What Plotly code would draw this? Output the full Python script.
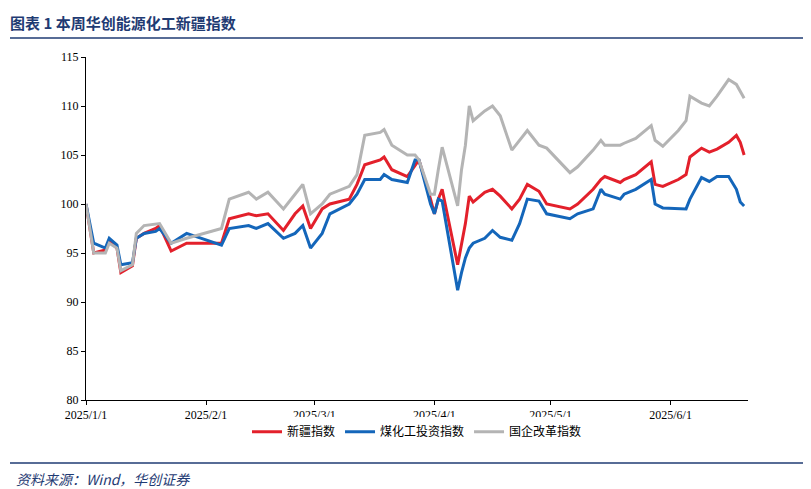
import plotly.graph_objects as go

dates = ["2025-01-01", "2025-01-03", "2025-01-06", "2025-01-07", "2025-01-09", "2025-01-10",
         "2025-01-13", "2025-01-14", "2025-01-16", "2025-01-19", "2025-01-20", "2025-01-23",
         "2025-01-27", "2025-02-05", "2025-02-07", "2025-02-12", "2025-02-14", "2025-02-17",
         "2025-02-21", "2025-02-24", "2025-02-26", "2025-02-28", "2025-03-03", "2025-03-05",
         "2025-03-10", "2025-03-12", "2025-03-14", "2025-03-18", "2025-03-19", "2025-03-21",
         "2025-03-25", "2025-03-27", "2025-03-28", "2025-03-31", "2025-04-01", "2025-04-02",
         "2025-04-03", "2025-04-07", "2025-04-08", "2025-04-09", "2025-04-10", "2025-04-11",
         "2025-04-14", "2025-04-16", "2025-04-18", "2025-04-21", "2025-04-23", "2025-04-25",
         "2025-04-28", "2025-04-30", "2025-05-06", "2025-05-08", "2025-05-12", "2025-05-14",
         "2025-05-15", "2025-05-19", "2025-05-20", "2025-05-23", "2025-05-27", "2025-05-28",
         "2025-05-30", "2025-06-03", "2025-06-05", "2025-06-06", "2025-06-09", "2025-06-11",
         "2025-06-13", "2025-06-16", "2025-06-18", "2025-06-19", "2025-06-20"]

xinjiang = [100, 95, 95.3, 96.2, 95.5, 93, 93.7, 96.5, 97, 97.5, 97.8, 95.2,
            96, 96, 98.5, 99, 98.8, 99, 97.3, 99, 99.8, 97.5, 99.5, 100,
            100.5, 102, 104, 104.5, 104.8, 103.5, 102.8, 104, 104.5, 100.5, 99, 100.5,
            101.5, 93.8, 96, 98, 100.8, 100.2, 101.2, 101.5, 100.8, 99.5, 100.5, 102,
            101.3, 100, 99.5, 100, 101.5, 102.5, 102.8, 102.2, 102.5, 103, 104.3, 102,
            101.8, 102.5, 103, 104.8, 105.7, 105.3, 105.6, 106.3, 107, 106.3, 105]
meihuagong = [100, 96, 95.5, 96.5, 95.8, 93.8, 94, 96.5, 97, 97.2, 97.5, 96,
              97, 95.8, 97.5, 97.8, 97.5, 98, 96.5, 97, 97.8, 95.5, 97, 99,
              100, 101, 102.5, 102.5, 103, 102.5, 102.2, 104.5, 104.5, 100, 99, 100.5,
              100.3, 91.2, 93, 94.5, 95.5, 96, 96.5, 97.3, 96.6, 96.3, 98, 100.5,
              100.3, 99, 98.5, 99, 99.5, 101.5, 101, 100.5, 101, 101.5, 102.5, 100,
              99.6, 99.5, 99.5, 100.5, 102.7, 102.3, 102.8, 102.8, 101.5, 100.2, 99.8]
guoqi = [100, 95, 95, 96, 95.5, 93.2, 93.8, 97, 97.8, 98, 98, 96,
         96.5, 97.5, 100.5, 101.2, 100.5, 101.2, 99.5, 101, 102, 99, 100, 101,
         101.8, 103, 107, 107.3, 107.6, 106, 105, 105, 104.5, 101, 101, 103.5,
         105.8, 99.8, 103.5, 106, 110, 108.5, 109.5, 110, 109, 105.5, 106.5, 107.5,
         106, 105.7, 103.2, 103.8, 105.5, 106.5, 106, 106, 106.2, 106.7, 108, 106.5,
         105.9, 107.5, 108.5, 111, 110.3, 110, 111, 112.7, 112.2, 111.5, 110.8]

yticks = [80, 85, 90, 95, 100, 105, 110, 115]
xticks = ["2025-01-01", "2025-02-01", "2025-03-01", "2025-04-01", "2025-05-01", "2025-06-01"]
xlabels = ["2025/1/1", "2025/2/1", "2025/3/1", "2025/4/1", "2025/5/1", "2025/6/1"]

fig = go.Figure()
fig.add_trace(go.Scatter(x=dates, y=xinjiang, mode="lines", name="新疆指数",
                         line=dict(color="#E3202B", width=3)))
fig.add_trace(go.Scatter(x=dates, y=meihuagong, mode="lines", name="煤化工投资指数",
                         line=dict(color="#1466BA", width=3)))
fig.add_trace(go.Scatter(x=dates, y=guoqi, mode="lines", name="国企改革指数",
                         line=dict(color="#B4B4B4", width=3)))

navy = "#1F3B73"
fig.update_layout(
    width=811, height=489,
    margin=dict(l=78, r=71, t=49, b=97),
    plot_bgcolor="white", paper_bgcolor="white",
    font=dict(family="Times New Roman, Liberation Serif, Noto Sans CJK SC", size=12, color="black"),
    showlegend=True,
    legend=dict(orientation="h", x=0.5, xanchor="center", y=-0.05, yanchor="top",
                font=dict(family="Noto Sans CJK SC", size=12)),
    xaxis=dict(range=["2025-01-01", "2025-06-21"], tickvals=xticks, ticktext=xlabels,
               showgrid=False, showline=True, linecolor="black", ticks="outside",
               ticklen=4, tickcolor="black"),
    yaxis=dict(range=[80, 115], tickvals=yticks, showgrid=False, showline=True,
               linecolor="black", ticks="outside", ticklen=4, tickcolor="black"),
    annotations=[
        dict(text="<b>图表 1 本周华创能源化工新疆指数</b>", xref="paper", yref="paper",
             x=-78 / 662, y=1 + 35 / 343, xanchor="left", yanchor="middle", showarrow=False,
             font=dict(family="Noto Sans CJK SC", size=15, color=navy)),
        dict(text="<i>资料来源：Wind，华创证券</i>", xref="paper", yref="paper",
             x=-72 / 662, y=-79 / 343, xanchor="left", yanchor="middle", showarrow=False,
             font=dict(family="Noto Sans CJK SC", size=14, color=navy)),
    ],
    shapes=[
        dict(type="line", xref="paper", yref="paper", x0=-76 / 662, x1=1 + 69 / 662,
             y0=1 + 19 / 343, y1=1 + 19 / 343, line=dict(color=navy, width=1.5)),
        dict(type="line", xref="paper", yref="paper", x0=-76 / 662, x1=1 + 69 / 662,
             y0=-63 / 343, y1=-63 / 343, line=dict(color=navy, width=1.5)),
    ],
)

fig.write_html("out.html")
